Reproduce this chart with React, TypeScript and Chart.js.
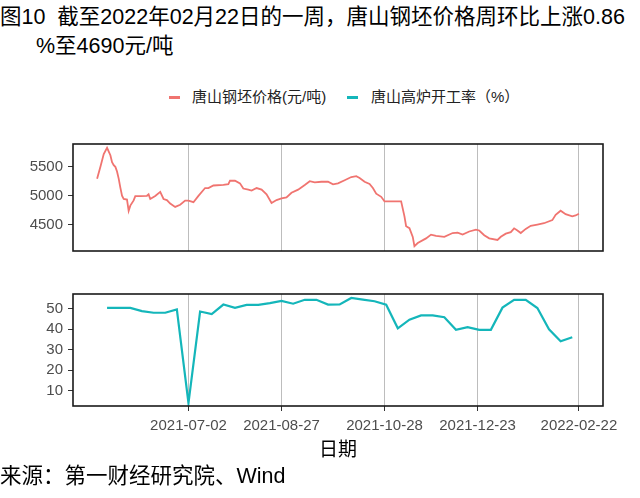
import React, { useEffect, useRef } from "react";
import { Chart, registerables } from "chart.js";
Chart.register(...registerables);

const FONT = "'Liberation Sans', 'Noto Sans CJK SC', Arial, sans-serif";

const titleLine1 = "图10  截至2022年02月22日的一周，唐山钢坯价格周环比上涨0.86";
const titleLine2 = "%至4690元/吨";
const priceLabel = "唐山钢坯价格(元/吨)";
const furnaceLabel = "唐山高炉开工率（%）";
const xAxisTitle = "日期";
const sourceText = "来源：第一财经研究院、Wind";

const priceColor = "#F07470";
const furnaceColor = "#14B6BA";

const xTickDates = ["2021-07-02", "2021-08-27", "2021-10-28", "2021-12-23", "2022-02-22"];
const priceYTicks = [4500, 5000, 5500];
const furnaceYTicks = [10, 20, 30, 40, 50];
const priceYRange = [4047, 5894];
const furnaceYRange = [2.56, 57.14];

const priceDates = [
  "2021-05-08", "2021-05-10", "2021-05-12", "2021-05-14", "2021-05-16", "2021-05-17", "2021-05-18",
  "2021-05-19", "2021-05-20", "2021-05-21", "2021-05-22", "2021-05-23", "2021-05-24", "2021-05-26",
  "2021-05-27", "2021-05-28", "2021-05-30", "2021-05-31", "2021-06-03", "2021-06-07", "2021-06-08",
  "2021-06-09", "2021-06-12", "2021-06-15", "2021-06-17", "2021-06-19", "2021-06-21", "2021-06-24",
  "2021-06-27", "2021-06-30", "2021-07-02", "2021-07-05", "2021-07-08", "2021-07-12", "2021-07-14",
  "2021-07-17", "2021-07-23", "2021-07-26", "2021-07-27", "2021-07-30", "2021-08-02", "2021-08-04",
  "2021-08-07", "2021-08-09", "2021-08-12", "2021-08-15", "2021-08-18", "2021-08-21", "2021-08-24",
  "2021-08-27", "2021-08-30", "2021-09-02", "2021-09-06", "2021-09-10", "2021-09-13", "2021-09-16",
  "2021-09-20", "2021-09-24", "2021-09-27", "2021-09-30", "2021-10-04", "2021-10-08", "2021-10-11",
  "2021-10-13", "2021-10-16", "2021-10-19", "2021-10-21", "2021-10-23", "2021-10-26", "2021-10-28",
  "2021-11-07", "2021-11-09", "2021-11-10", "2021-11-12", "2021-11-14", "2021-11-15", "2021-11-17",
  "2021-11-22", "2021-11-25", "2021-11-28", "2021-12-03", "2021-12-08", "2021-12-11", "2021-12-14",
  "2021-12-18", "2021-12-22", "2021-12-24", "2021-12-27", "2021-12-30", "2022-01-04", "2022-01-06",
  "2022-01-09", "2022-01-12", "2022-01-14", "2022-01-16", "2022-01-18", "2022-01-21", "2022-01-24",
  "2022-01-28", "2022-02-01", "2022-02-06", "2022-02-08", "2022-02-11", "2022-02-14", "2022-02-18",
  "2022-02-20", "2022-02-22",
];
const priceValues = [
  5296, 5500, 5720, 5829, 5700, 5580, 5530,
  5500, 5420, 5296, 5140, 5000, 4945, 4935,
  4740, 4830, 4920, 4995, 4995, 5000, 5025,
  4945, 4998, 5068, 4945, 4925, 4865, 4808,
  4845, 4917, 4917, 4889, 4998, 5134, 5134,
  5178, 5190, 5200, 5260, 5260, 5215, 5125,
  5106, 5090, 5134, 5106, 5024, 4875, 4927,
  4954, 4971, 5052, 5106, 5187, 5252, 5231,
  5242, 5242, 5199, 5215, 5269, 5324, 5340,
  5308, 5242, 5204, 5134, 5036, 4982, 4905,
  4905, 4645, 4475, 4440, 4290, 4130, 4184,
  4265, 4330, 4308, 4292, 4357, 4363, 4330,
  4384, 4417, 4401, 4319, 4265, 4238, 4292,
  4347, 4373, 4438, 4401, 4357, 4428, 4482,
  4503, 4526, 4580, 4673, 4743, 4682, 4645,
  4661, 4690,
];

const furnaceDates = [
  "2021-05-14", "2021-05-21", "2021-05-28", "2021-06-04", "2021-06-11", "2021-06-18", "2021-06-25",
  "2021-07-02", "2021-07-09", "2021-07-16", "2021-07-23", "2021-07-30", "2021-08-06", "2021-08-13",
  "2021-08-20", "2021-08-27", "2021-09-03", "2021-09-10", "2021-09-17", "2021-09-24", "2021-10-01",
  "2021-10-08", "2021-10-15", "2021-10-22", "2021-10-29", "2021-11-05", "2021-11-12", "2021-11-19",
  "2021-11-26", "2021-12-03", "2021-12-10", "2021-12-17", "2021-12-24", "2021-12-31", "2022-01-07",
  "2022-01-14", "2022-01-21", "2022-01-28", "2022-02-04", "2022-02-11", "2022-02-18",
];
const furnaceValues = [
  50.4, 50.4, 50.4, 48.8, 48.0, 48.0, 49.6,
  4.0, 48.6, 47.4, 52.0, 50.4, 51.8, 51.8,
  52.7, 53.8, 52.4, 54.3, 54.3, 52.0, 52.1,
  55.2, 54.4, 53.6, 51.9, 40.4, 44.6, 46.7,
  46.7, 45.8, 39.7, 41.0, 39.7, 39.7, 50.5,
  54.3, 54.3, 50.3, 39.9, 34.1, 36.1,
];

const BASE = Date.UTC(2021, 6, 2);
const toDay = (s: string) => {
  const [y, m, d] = s.split("-").map(Number);
  return (Date.UTC(y, m - 1, d) - BASE) / 86400000;
};

const allDays = priceDates.concat(furnaceDates).map(toDay);
const dMin = Math.min(...allDays);
const dMax = Math.max(...allDays);
const xMin = dMin - 0.05 * (dMax - dMin);
const xMax = dMax + 0.05 * (dMax - dMin);
const xTickDays = xTickDates.map(toDay);

const framePlugin = {
  id: "frame",
  afterDatasetsDraw(chart: any) {
    const { ctx, chartArea: a } = chart;
    ctx.save();
    ctx.strokeStyle = "#1a1a1a";
    ctx.lineWidth = 1.6;
    ctx.strokeRect(a.left, a.top, a.right - a.left, a.bottom - a.top);
    ctx.restore();
  },
};

function makeX(showLabels: boolean) {
  return {
    type: "linear" as const,
    min: xMin,
    max: xMax,
    afterBuildTicks: (s: any) => {
      s.ticks = xTickDays.map((v) => ({ value: v }));
    },
    afterFit: (s: any) => {
      s.height = showLabels ? 59 : 8;
    },
    ticks: {
      display: showLabels,
      autoSkip: false,
      maxRotation: 0,
      minRotation: 0,
      padding: 6,
      color: "#4D4D4D",
      font: { family: FONT, size: 15 },
      callback: (_v: any, i: number) => xTickDates[i],
    },
    grid: {
      color: "#bdbdbd",
      lineWidth: 1,
      drawTicks: showLabels,
      tickLength: 5,
      tickColor: "#333333",
      tickWidth: 1,
    },
    border: { display: false },
    title: {
      display: showLabels,
      text: xAxisTitle,
      color: "#000",
      font: { family: FONT, size: 19 },
      padding: { top: 0, bottom: 3 },
    },
  };
}

function makeY(range: number[], ticks: number[]) {
  return {
    type: "linear" as const,
    min: range[0],
    max: range[1],
    afterBuildTicks: (s: any) => {
      s.ticks = ticks.map((v) => ({ value: v }));
    },
    afterFit: (s: any) => {
      s.width = 73;
    },
    ticks: {
      padding: 5,
      color: "#4D4D4D",
      font: { family: FONT, size: 15 },
      callback: (v: any) => String(v),
    },
    grid: {
      drawOnChartArea: false,
      drawTicks: true,
      tickLength: 5,
      tickColor: "#333333",
      tickWidth: 1,
    },
    border: { display: false },
  };
}

function Panel(props: {
  top: number;
  height: number;
  padTop: number;
  showX: boolean;
  dates: string[];
  values: number[];
  label: string;
  color: string;
  width: number;
  yRange: number[];
  yTicks: number[];
}) {
  const ref = useRef<HTMLCanvasElement | null>(null);
  useEffect(() => {
    if (!ref.current) return;
    const chart = new Chart(ref.current, {
      type: "line",
      data: {
        datasets: [
          {
            label: props.label,
            data: props.dates.map((d, i) => ({ x: toDay(d), y: props.values[i] })),
            borderColor: props.color,
            backgroundColor: props.color,
            borderWidth: props.width,
            pointRadius: 0,
            tension: 0,
            fill: false,
          },
        ],
      },
      options: {
        animation: false,
        responsive: false,
        maintainAspectRatio: false,
        layout: { padding: { top: props.padTop, right: 37, left: 0, bottom: 0 } },
        plugins: { legend: { display: false }, tooltip: { enabled: false } },
        scales: {
          x: makeX(props.showX) as any,
          y: makeY(props.yRange, props.yTicks) as any,
        },
      },
      plugins: [framePlugin],
    });
    return () => chart.destroy();
  }, []);
  return (
    <canvas
      ref={ref}
      width={640}
      height={props.height}
      style={{ position: "absolute", left: 0, top: props.top, width: 640, height: props.height }}
    />
  );
}

export default function App() {
  const textBase: React.CSSProperties = {
    position: "absolute",
    fontFamily: FONT,
    whiteSpace: "pre",
  };
  return (
    <div style={{ position: "absolute", left: 0, top: 0, width: 640, height: 498, background: "#fff", overflow: "hidden" }}>
      <div style={{ ...textBase, left: 0, top: 2, height: 30, lineHeight: "30px", fontSize: 21.5, color: "#000" }}>{titleLine1}</div>
      <div style={{ ...textBase, left: 36, top: 31, height: 30, lineHeight: "30px", fontSize: 21.5, color: "#000" }}>{titleLine2}</div>

      <div style={{ position: "absolute", left: 169, top: 96, width: 11, height: 2.5, background: priceColor }} />
      <div style={{ ...textBase, left: 192, top: 87, height: 20, lineHeight: "20px", fontSize: 15, color: "#222" }}>{priceLabel}</div>
      <div style={{ position: "absolute", left: 347, top: 96, width: 11, height: 2.5, background: furnaceColor }} />
      <div style={{ ...textBase, left: 371, top: 87, height: 20, lineHeight: "20px", fontSize: 15, color: "#222" }}>{furnaceLabel}</div>

      <Panel top={130} height={135} padTop={13} showX={false} dates={priceDates} values={priceValues}
        label={priceLabel} color={priceColor} width={1.8} yRange={priceYRange} yTicks={priceYTicks} />
      <Panel top={280} height={185} padTop={14} showX={true} dates={furnaceDates} values={furnaceValues}
        label={furnaceLabel} color={furnaceColor} width={2.2} yRange={furnaceYRange} yTicks={furnaceYTicks} />

      <div style={{ ...textBase, left: 0, top: 461, height: 30, lineHeight: "30px", fontSize: 21.5, color: "#000" }}>{sourceText}</div>
    </div>
  );
}
